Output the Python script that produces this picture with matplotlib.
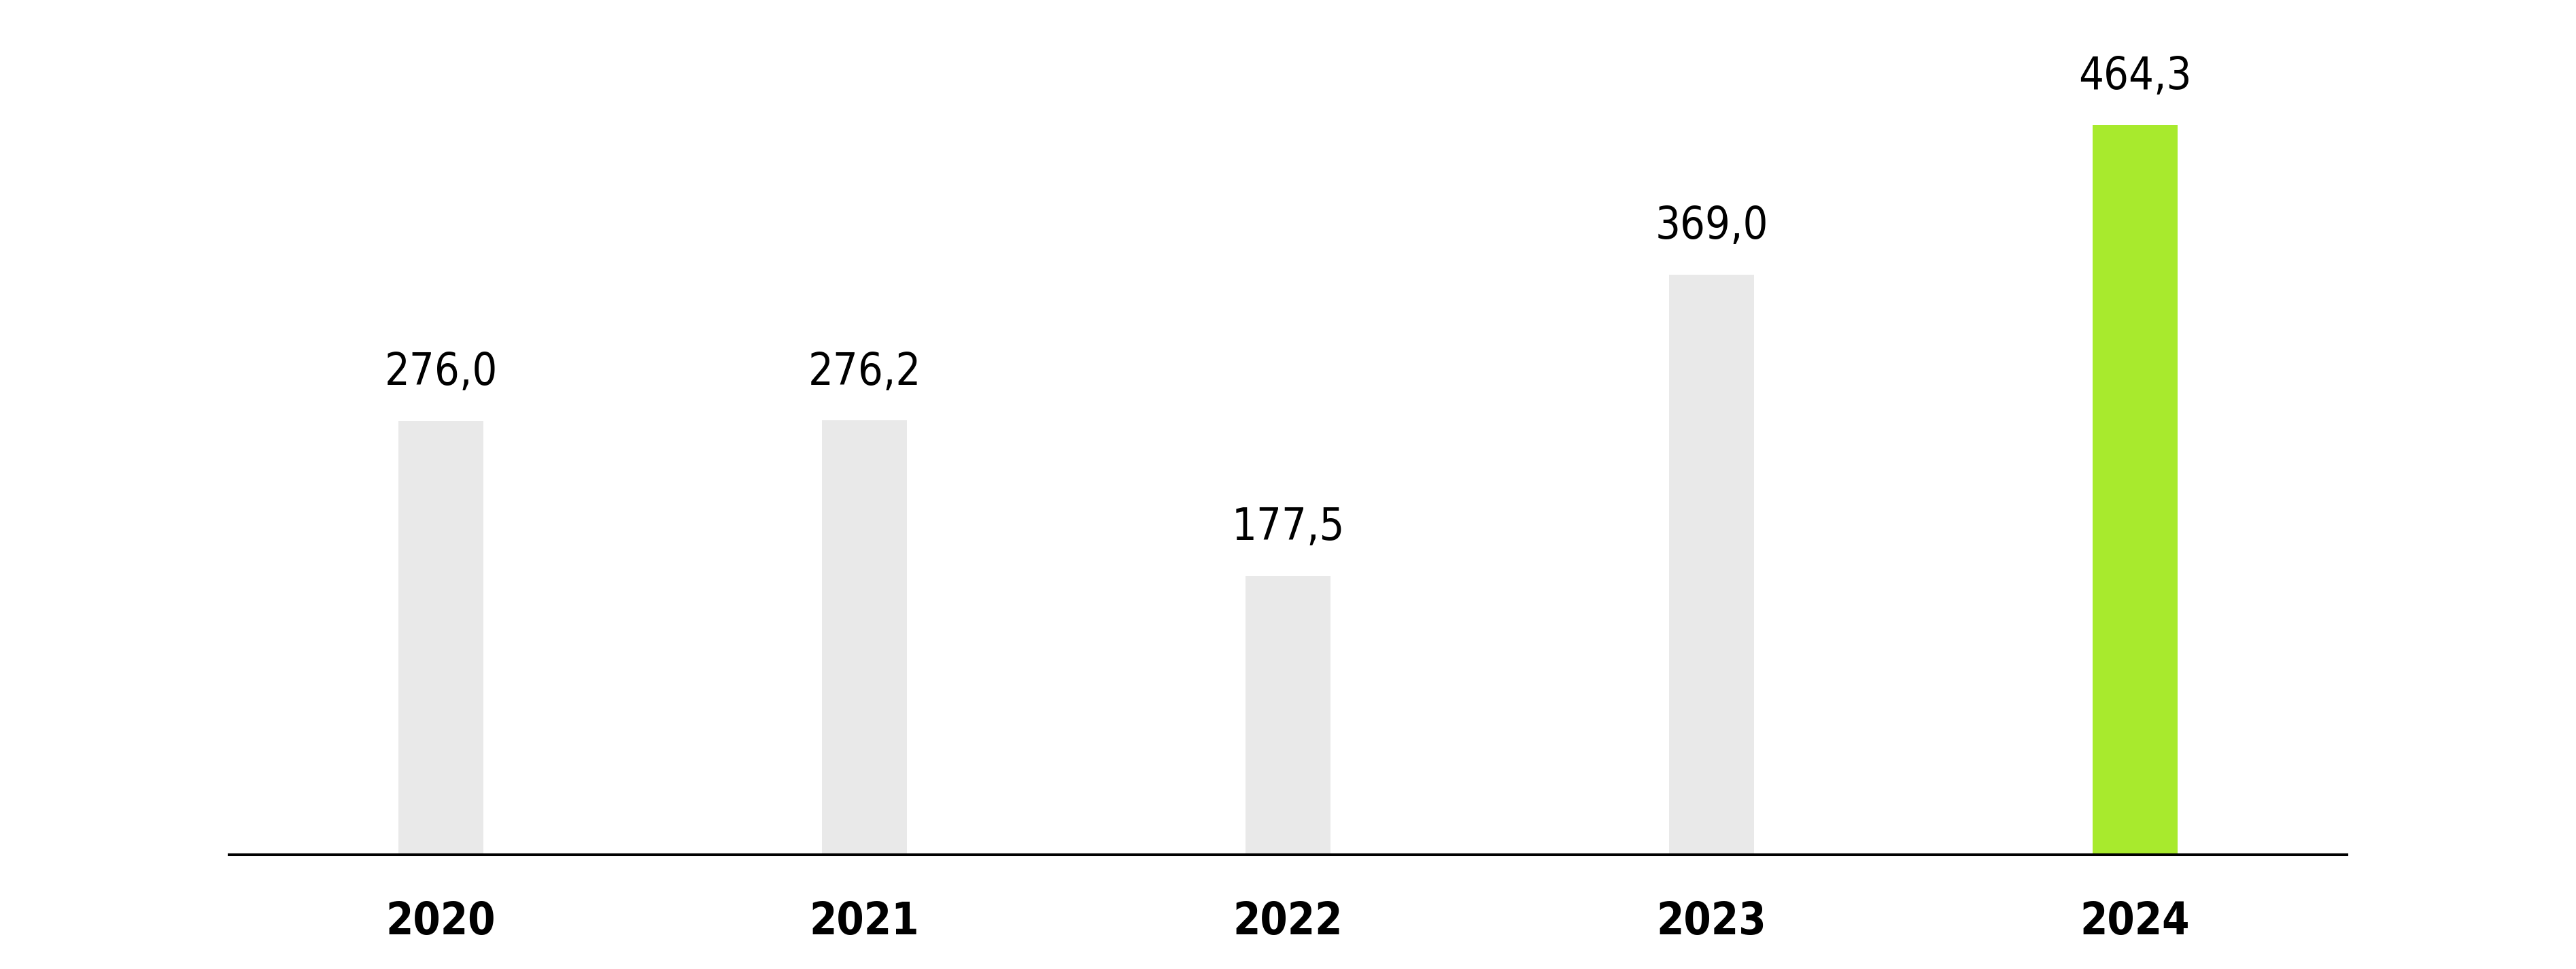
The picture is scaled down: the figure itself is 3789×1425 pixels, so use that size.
import os
import matplotlib
matplotlib.use("Agg")
import matplotlib.pyplot as plt
from matplotlib import font_manager as fm

# data
years = ["2020", "2021", "2022", "2023", "2024"]
values = [276.0, 276.2, 177.5, 369.0, 464.3]
labels = ["276,0", "276,2", "177,5", "369,0", "464,3"]
colors = ["#e9e9e9", "#e9e9e9", "#e9e9e9", "#e9e9e9", "#a8ea2d"]


def pick_font(bold=False):
    """look for a narrow face, the original uses a condensed DIN-like font"""
    files = {os.path.basename(f.fname): f.fname for f in fm.fontManager.ttflist}
    if bold:
        wanted = ["DejaVuSansCondensed-Bold.ttf", "LiberationSansNarrow-Bold.ttf"]
    else:
        wanted = ["DejaVuSansCondensed.ttf", "LiberationSansNarrow-Regular.ttf"]
    for w in wanted:
        if w in files:
            return fm.FontProperties(fname=files[w])
    return fm.FontProperties(family="DejaVu Sans", weight="bold" if bold else "normal")


fp_val = pick_font(False)
fp_year = pick_font(True)

W, H, DPI = 3789, 1425, 100
fig = plt.figure(figsize=(W / DPI, H / DPI), dpi=DPI)
ax = fig.add_axes([337 / W, (H - 1257) / H, 3115 / W, 1156 / H])

x = range(len(years))
ax.bar(x, values, width=0.2, color=colors, zorder=1)
ax.set_xlim(-0.5, 4.5)
ax.set_ylim(0, 500)

for s in ["top", "right", "left"]:
    ax.spines[s].set_visible(False)
ax.spines["bottom"].set_linewidth(2.9)
ax.spines["bottom"].set_color("black")
ax.spines["bottom"].set_zorder(3)
ax.set_yticks([])
ax.set_xticks([])

for i, v in enumerate(values):
    ax.annotate(labels[i], xy=(i, v), xytext=(0, 38), textcoords="offset points",
                ha="center", va="baseline", fontproperties=fp_val, fontsize=46.5,
                color="black")
    ax.annotate(years[i], xy=(i, 0), xycoords=("data", "axes fraction"),
                xytext=(0, -84), textcoords="offset points",
                ha="center", va="baseline", fontproperties=fp_year, fontsize=46.5,
                color="black")

fig.savefig("out.png", dpi=DPI, facecolor="white")
